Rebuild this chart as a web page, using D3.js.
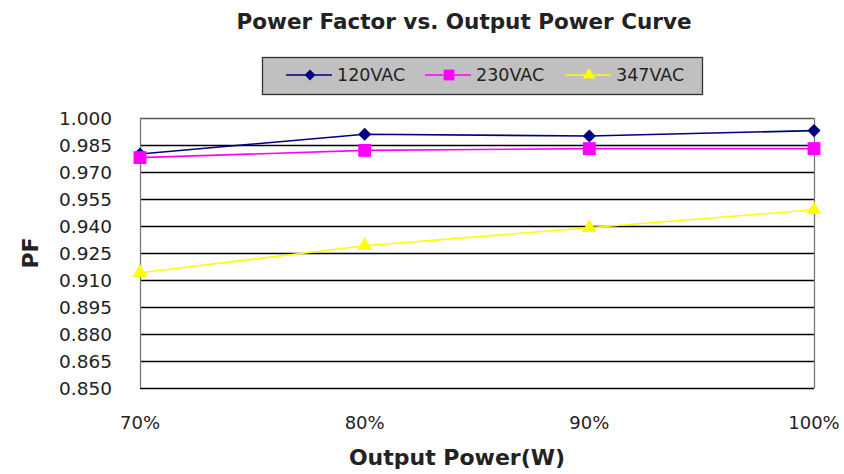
<!DOCTYPE html>
<html>
<head>
<meta charset="utf-8">
<script src="https://cdn.jsdelivr.net/npm/d3@7"></script>
<style>
  body { margin: 0; background: #fff; }
  text { font-family: "DejaVu Sans", sans-serif; fill: #222; }
</style>
</head>
<body>
<svg id="chart" width="844" height="474"></svg>
<script>
let width = 844;
let height = 474;

let categories = ["70%", "80%", "90%", "100%"];
let pf120 = [0.980, 0.991, 0.990, 0.993];
let pf230 = [0.978, 0.982, 0.983, 0.983];
let pf347 = [0.914, 0.929, 0.939, 0.949];
let yTicks = [0.850, 0.865, 0.880, 0.895, 0.910, 0.925, 0.940, 0.955, 0.970, 0.985, 1.000];

let series = [
  {name: "120VAC", values: pf120, color: "#000080", symbol: d3.symbolDiamond2, size: 110},
  {name: "230VAC", values: pf230, color: "#ff00ff", symbol: d3.symbolSquare2, size: 210},
  {name: "347VAC", values: pf347, color: "#ffff00", symbol: d3.symbolTriangle2, size: 160}
];

let margin = {left: 140, right: 30, top: 118, bottom: 86};

let x = d3.scalePoint().domain(categories).range([margin.left, width - margin.right]);
let y = d3.scaleLinear().domain([0.85, 1.0]).range([height - margin.bottom, margin.top]);

let svg = d3.select("#chart");

// title
svg.append("text")
   .attr("x", 464).attr("y", 29)
   .attr("text-anchor", "middle")
   .style("font-size", "21.5px").style("font-weight", "bold")
   .text("Power Factor vs. Output Power Curve");

// gridlines
svg.append("g")
   .selectAll("line")
   .data(yTicks)
   .enter()
   .append("line")
   .attr("x1", x.range()[0]).attr("x2", x.range()[1])
   .attr("y1", d => Math.round(y(d)) + 0.5).attr("y2", d => Math.round(y(d)) + 0.5)
   .attr("stroke", (d, i) => i == yTicks.length - 1 ? "#555" : "#000")
   .attr("stroke-width", 1.3);

// left axis and right border
[x.range()[0], x.range()[1]].forEach(function(px){
  svg.append("line")
     .attr("x1", px + 0.5).attr("x2", px + 0.5)
     .attr("y1", y(1.0)).attr("y2", y(0.85))
     .attr("stroke", "#777").attr("stroke-width", 1.3);
});

// y tick labels
svg.append("g")
   .selectAll("text")
   .data(yTicks)
   .enter()
   .append("text")
   .attr("x", 112)
   .attr("y", d => y(d) + 6.5)
   .attr("text-anchor", "end")
   .style("font-size", "18.5px")
   .text(d => d3.format(".3f")(d));

// x tick labels
svg.append("g")
   .selectAll("text")
   .data(categories)
   .enter()
   .append("text")
   .attr("x", d => x(d))
   .attr("y", 429)
   .attr("text-anchor", "middle")
   .style("font-size", "18px")
   .text(d => d);

// axis titles
svg.append("text")
   .attr("x", 457).attr("y", 465)
   .attr("text-anchor", "middle")
   .style("font-size", "22px").style("font-weight", "bold")
   .text("Output Power(W)");

svg.append("text")
   .attr("transform", "translate(38,253) rotate(-90)")
   .attr("text-anchor", "middle")
   .style("font-size", "22px").style("font-weight", "bold")
   .text("PF");

// series
let line = d3.line().x((d, i) => x(categories[i])).y(d => y(d));

series.forEach(function(s){
  svg.append("path")
     .datum(s.values)
     .attr("d", line)
     .attr("fill", "none")
     .attr("stroke", s.color)
     .attr("stroke-width", 1.6);

  svg.append("g")
     .selectAll("path")
     .data(s.values)
     .enter()
     .append("path")
     .attr("d", d3.symbol().type(s.symbol).size(s.size))
     .attr("transform", (d, i) => `translate(${x(categories[i])},${y(d)})`)
     .attr("fill", s.color);
});

// legend
let legend = svg.append("g");
legend.append("rect")
      .attr("x", 262.5).attr("y", 57.5)
      .attr("width", 440).attr("height", 37)
      .attr("fill", "#c0c0c0")
      .attr("stroke", "#333").attr("stroke-width", 1.3);

let legendX = [286, 425, 565];
series.forEach(function(s, i){
  let lx = legendX[i];
  legend.append("line")
        .attr("x1", lx).attr("x2", lx + 46)
        .attr("y1", 75).attr("y2", 75)
        .attr("stroke", s.color).attr("stroke-width", 1.6);
  legend.append("path")
        .attr("d", d3.symbol().type(s.symbol).size(s.size * 0.7))
        .attr("transform", `translate(${lx + 24},75)`)
        .attr("fill", s.color);
  legend.append("text")
        .attr("x", lx + 51).attr("y", 81)
        .style("font-size", "17.5px")
        .text(s.name);
});
</script>
</body>
</html>
